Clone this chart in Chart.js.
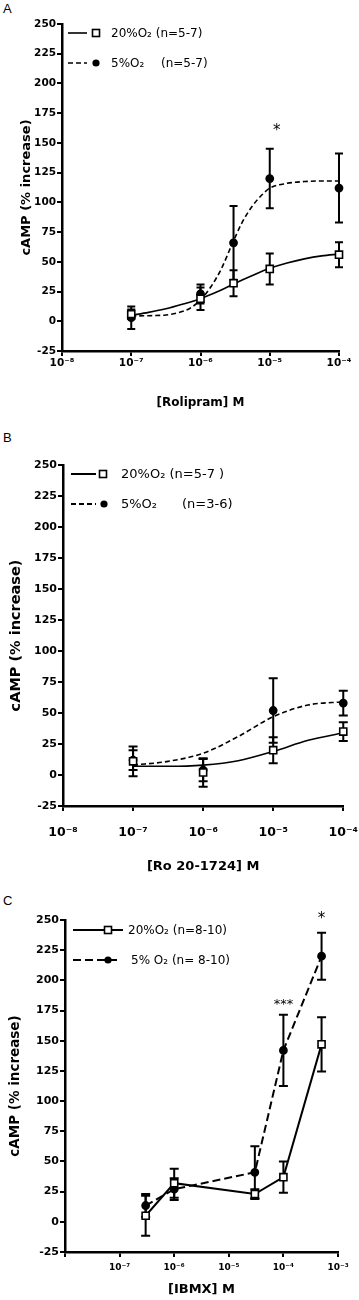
<!DOCTYPE html>
<html>
<head>
<meta charset="utf-8">
<script src="https://cdn.jsdelivr.net/npm/chart.js@4.4.1/dist/chart.umd.min.js"></script>
<style>
  body { margin: 0; background: #fff; width: 359px; height: 1300px; position: relative; overflow: hidden; }
  canvas { position: absolute; left: 0; }
  .tag { position: absolute; left: 3px; font: 13px "Liberation Sans", Arial, sans-serif; color: #000; }
</style>
</head>
<body>
<div class="tag" style="top:1px">A</div>
<div class="tag" style="top:430px">B</div>
<div class="tag" style="top:893px">C</div>
<canvas id="chartA" width="359" height="425" style="top:0px"></canvas>
<canvas id="chartB" width="359" height="445" style="top:430px"></canvas>
<canvas id="chartC" width="359" height="420" style="top:880px"></canvas>
<script>
// x values are log10 of the molar concentration

// A - Rolipram
var rolConc = [-7, -6, -5.523, -5, -4];
var rol20 = [6, 19, 32, 44, 56];
var rol20Sem = [4, 9.5, 11, 13, 10.5];
var rol5 = [3, 23, 66, 120, 112];
var rol5Sem = [9.5, 8, 31, 25, 29];
// fitted curves
var rolFit20X = [-7, -6.75, -6.5, -6.25, -6, -5.75, -5.5, -5.25, -5, -4.75, -4.5, -4.25, -4];
var rolFit20 = [5, 7.5, 10.5, 14.5, 19, 25, 32, 38.5, 44.5, 49, 52.5, 55, 56.5];
var rolFit5X = [-7, -6.75, -6.5, -6.3, -6.15, -6, -5.85, -5.7, -5.55, -5.4, -5.25, -5.1, -5, -4.75, -4.5, -4.25, -4];
var rolFit5 = [4.5, 4.7, 5.3, 7.5, 11, 18, 29, 44, 64, 83, 97, 107, 112, 116, 117.5, 118, 118];

// B - Ro 20-1724
var roConc = [-7, -6, -5, -4];
var ro20 = [11, 2, 20, 35];
var ro20Sem = [12, 11.5, 10.5, 7.5];
var ro5 = [12, 4, 52, 58];
var ro5Sem = [8, 9, 26, 10];
var roFitX = [-7, -6.5, -6, -5.5, -5, -4.5, -4];
var roFit20 = [7, 7, 8, 11.5, 19, 28, 34];
var roFit5 = [8, 11, 17.5, 31, 47, 56.5, 59];

// C - IBMX
var ibmxConc = [-6.523, -6, -4.523, -4, -3.301];
var ibmx20 = [5, 32, 23, 37, 147];
var ibmx20Sem = [16.5, 12, 4, 13, 22.5];
var ibmx5 = [13.5, 27, 41, 142, 220];
var ibmx5Sem = [9.5, 9, 21.5, 29.5, 19.5];

var yTicks = [-25, 0, 25, 50, 75, 100, 125, 150, 175, 200, 225, 250];

var SUP = {'-': '\u207B', '0': '\u2070', '1': '\u00B9', '2': '\u00B2', '3': '\u00B3', '4': '\u2074',
           '5': '\u2075', '6': '\u2076', '7': '\u2077', '8': '\u2078', '9': '\u2079'};
function powLabel(v) {
  return '10' + String(v).split('').map(function (c) { return SUP[c]; }).join('');
}
function pts(xs, ys) {
  return xs.map(function (x, i) { return {x: x, y: ys[i]}; });
}

// SEM bars drawn behind the markers
var errorBars = {
  id: 'errorBars',
  beforeDatasetsDraw: function (chart, args, opts) {
    var ctx = chart.ctx, xs = chart.scales.x, ys = chart.scales.y;
    ctx.save();
    ctx.strokeStyle = '#000';
    ctx.lineWidth = opts.lineWidth;
    ctx.setLineDash([]);
    chart.data.datasets.forEach(function (ds) {
      if (!ds.errors) return;
      ds.data.forEach(function (p, j) {
        var e = ds.errors[j];
        var px = xs.getPixelForValue(p.x);
        var top = ys.getPixelForValue(p.y + e);
        var bot = ys.getPixelForValue(p.y - e);
        ctx.beginPath();
        ctx.moveTo(px, top); ctx.lineTo(px, bot);
        ctx.moveTo(px - opts.cap, top); ctx.lineTo(px + opts.cap, top);
        ctx.moveTo(px - opts.cap, bot); ctx.lineTo(px + opts.cap, bot);
        ctx.stroke();
      });
    });
    ctx.restore();
  }
};

// legend drawn inside the plot, like the original
var keyBox = {
  id: 'keyBox',
  afterDraw: function (chart, args, opts) {
    var ctx = chart.ctx;
    ctx.save();
    opts.items.forEach(function (it) {
      ctx.strokeStyle = '#000';
      ctx.lineWidth = opts.lineWidth;
      ctx.setLineDash(it.dash);
      ctx.beginPath();
      ctx.moveTo(it.x0, it.y); ctx.lineTo(it.x1, it.y);
      ctx.stroke();
      ctx.setLineDash([]);
      if (it.marker === 'rect') {
        ctx.fillStyle = '#fff';
        ctx.lineWidth = 1.6;
        ctx.fillRect(it.mx - 3.5, it.y - 3.5, 7, 7);
        ctx.strokeRect(it.mx - 3.5, it.y - 3.5, 7, 7);
      } else {
        ctx.fillStyle = '#000';
        ctx.beginPath();
        ctx.arc(it.mx, it.y, 3.6, 0, Math.PI * 2);
        ctx.fill();
      }
      ctx.fillStyle = '#000';
      ctx.font = opts.font;
      ctx.textBaseline = 'middle';
      ctx.textAlign = 'left';
      it.text.forEach(function (t) { ctx.fillText(t[0], t[1], it.y + 1); });
    });
    ctx.restore();
  }
};

// significance marks placed in data units
var stars = {
  id: 'stars',
  afterDatasetsDraw: function (chart, args, opts) {
    var ctx = chart.ctx;
    ctx.save();
    ctx.fillStyle = '#000';
    ctx.textAlign = 'center';
    ctx.textBaseline = 'middle';
    opts.items.forEach(function (s) {
      ctx.font = s.font;
      ctx.fillText(s.text, chart.scales.x.getPixelForValue(s.x), chart.scales.y.getPixelForValue(s.y));
    });
    ctx.restore();
  }
};

function markerSet(xs, ys, sem, shape, line) {
  return {
    data: pts(xs, ys),
    errors: sem,
    clip: false,
    showLine: !!line,
    borderDash: line ? line.dash : [],
    borderWidth: line ? line.width : 1.6,
    tension: 0,
    borderColor: '#000',
    backgroundColor: shape === 'rect' ? '#fff' : '#000',
    pointStyle: shape,
    pointRadius: shape === 'rect' ? 5 : 3.6,
    pointBorderWidth: 1.6,
    pointBorderColor: '#000',
    pointBackgroundColor: shape === 'rect' ? '#fff' : '#000'
  };
}
function curveSet(xs, ys, dash) {
  return {
    data: pts(xs, ys),
    clip: false,
    showLine: true,
    borderColor: '#000',
    borderWidth: 1.6,
    borderDash: dash,
    pointRadius: 0,
    cubicInterpolationMode: 'monotone'
  };
}

function panel(id, o) {
  return new Chart(document.getElementById(id), {
    type: 'scatter',
    data: {datasets: o.datasets},
    options: {
      responsive: false,
      animation: false,
      layout: {padding: o.pad},
      plugins: {
        legend: {display: false},
        tooltip: {enabled: false},
        errorBars: {lineWidth: 2, cap: o.cap},
        keyBox: {items: o.key, font: o.keyFont, lineWidth: o.keyLine},
        stars: {items: o.stars}
      },
      scales: {
        x: {
          type: 'linear', min: o.xMin, max: o.xMax,
          afterFit: function (s) { s.height = o.xH; },
          ticks: {
            stepSize: 1, autoSkip: false, maxRotation: 0, color: '#000', padding: 1,
            font: {family: 'DejaVu Sans', weight: 'bold', size: o.xTickSize, lineHeight: o.xTickLH},
            callback: function (v) { return (o.hideFirst && v === o.xMin) ? '' : powLabel(v); }
          },
          grid: {drawOnChartArea: false, color: '#000', lineWidth: 2, tickLength: 5},
          border: {color: '#000', width: 2.5},
          title: {
            display: true, text: o.xTitle, color: '#000', padding: {top: 0, bottom: o.xTitlePad},
            font: {family: 'DejaVu Sans', weight: 'bold', size: o.xTitleSize}
          }
        },
        y: {
          min: -25, max: 250,
          afterFit: function (s) { s.width = o.yW; },
          afterBuildTicks: function (s) { s.ticks = yTicks.map(function (v) { return {value: v}; }); },
          ticks: {
            color: '#000', padding: 1,
            font: {family: 'DejaVu Sans', weight: 'bold', size: o.yTickSize}
          },
          grid: {drawOnChartArea: false, color: '#000', lineWidth: 2, tickLength: 5},
          border: {color: '#000', width: 2.5},
          title: {
            display: true, text: 'cAMP (% increase)', color: '#000', padding: {top: o.yTitlePad, bottom: 0},
            font: {family: 'DejaVu Sans', weight: 'bold', size: o.yTitleSize}
          }
        }
      }
    },
    plugins: [errorBars, keyBox, stars]
  });
}

panel('chartA', {
  datasets: [
    markerSet(rolConc, rol20, rol20Sem, 'rect'),
    markerSet(rolConc, rol5, rol5Sem, 'circle'),
    curveSet(rolFit20X, rolFit20, []),
    curveSet(rolFit5X, rolFit5, [5, 3])
  ],
  pad: {left: 0, right: 20, top: 24, bottom: 0},
  xMin: -8, xMax: -4, xH: 74, xTickSize: 10.5, xTickLH: 1.2, xTitle: '[Rolipram] M', xTitlePad: 15, xTitleSize: 12,
  yW: 62, yTickSize: 10.5, yTitleSize: 13, yTitlePad: 19,
  cap: 4, keyLine: 1.6,
  keyFont: '12px "DejaVu Sans"',
  key: [
    {y: 33, x0: 68, x1: 87, mx: 96, dash: [], marker: 'rect', text: [['20%O\u2082 (n=5-7)', 111]]},
    {y: 63, x0: 68, x1: 87, mx: 96, dash: [5, 3], marker: 'circle', text: [['5%O\u2082', 111], ['(n=5-7)', 161]]}
  ],
  stars: [{x: -4.9, y: 160, text: '*', font: '15px "DejaVu Sans"'}]
});

panel('chartB', {
  datasets: [
    markerSet(roConc, ro20, ro20Sem, 'rect'),
    markerSet(roConc, ro5, ro5Sem, 'circle'),
    curveSet(roFitX, roFit20, []),
    curveSet(roFitX, roFit5, [5, 3])
  ],
  pad: {left: 0, right: 14, top: 35, bottom: 0},
  xMin: -8, xMax: -4, xH: 69, xTickSize: 12.5, xTickLH: 3.3, xTitle: '[Ro 20-1724] M', xTitlePad: 1, xTitleSize: 13,
  yW: 63, yTickSize: 11, yTitleSize: 14.5, yTitlePad: 8,
  cap: 4.5, keyLine: 2,
  keyFont: '13px "DejaVu Sans"',
  key: [
    {y: 44, x0: 71, x1: 96, mx: 103, dash: [], marker: 'rect', text: [['20%O\u2082 (n=5-7 )', 121]]},
    {y: 74, x0: 71, x1: 96, mx: 104, dash: [5, 3], marker: 'circle', text: [['5%O\u2082', 121], ['(n=3-6)', 182]]}
  ],
  stars: []
});

panel('chartC', {
  datasets: [
    markerSet(ibmxConc, ibmx20, ibmx20Sem, 'rect', {dash: [], width: 2}),
    markerSet(ibmxConc, ibmx5, ibmx5Sem, 'circle', {dash: [8, 4], width: 2})
  ],
  pad: {left: 0, right: 21, top: 40, bottom: 0},
  xMin: -8, xMax: -3, hideFirst: true, xH: 48, xTickSize: 9, xTickLH: 2.1, xTitle: '[IBMX] M', xTitlePad: 3, xTitleSize: 13,
  yW: 65, yTickSize: 11, yTitleSize: 13.5, yTitlePad: 7,
  cap: 4.5, keyLine: 2,
  keyFont: '12px "DejaVu Sans"',
  key: [
    {y: 50, x0: 73, x1: 123, mx: 108, dash: [], marker: 'rect', text: [['20%O\u2082 (n=8-10)', 128]]},
    {y: 80, x0: 73, x1: 121, mx: 108, dash: [8, 4], marker: 'circle', text: [['5% O\u2082 (n= 8-10)', 131]]}
  ],
  stars: [
    {x: -4, y: 180, text: '***', font: '13px "DejaVu Sans"'},
    {x: -3.301, y: 251, text: '*', font: '15px "DejaVu Sans"'}
  ]
});
</script>
</body>
</html>
